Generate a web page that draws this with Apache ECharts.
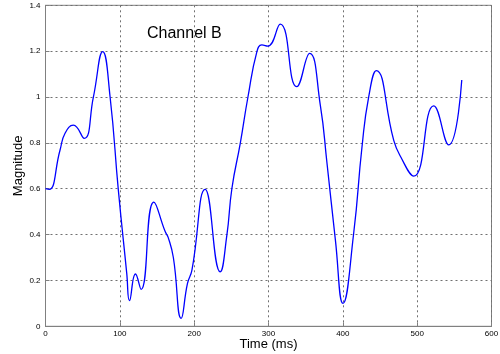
<!DOCTYPE html>
<html>
<head>
<meta charset="utf-8">
<script src="https://cdn.jsdelivr.net/npm/echarts@6/dist/echarts.min.js"></script>
<style>html,body{margin:0;padding:0;background:#fff;}#c{width:500px;height:354px;}</style>
</head>
<body>
<div id="c"></div>
<script>
var times = [0,5,19.5,26.3,37.5,52,64.4,77,86.9,98,109.3,113,121,128.6,145.7,161,165,172,182.5,191,197,214.8,235,244,250.8,262,272.3,284.4,291,299,315.8,338,355.3,369.7,378.7,390,400.2,414.6,425.8,434.8,445,468.4,476.5,495.4,522.3,542.5,560];
var magnitude = [0.60,0.597,0.768,0.842,0.877,0.82,1.0,1.198,1.0,0.594,0.231,0.112,0.228,0.161,0.542,0.413,0.388,0.30,0.035,0.187,0.245,0.597,0.238,0.398,0.602,0.798,0.999,1.198,1.227,1.222,1.318,1.045,1.19,0.965,0.711,0.376,0.10,0.406,0.783,1.001,1.115,0.812,0.747,0.655,0.961,0.791,1.074];
var xTicks = [0,100,200,300,400,500,600];
var yTicks = [0,0.2,0.4,0.6,0.8,1,1.2,1.4];
var titleText = 'Channel B';
var xName = 'Time (ms)';
var yName = 'Magnitude';

var pts = times.map(function(t,i){return [t, magnitude[i]];});
var font = 'Arial, "Liberation Sans", sans-serif';
var chart = echarts.init(document.getElementById('c'), null, {renderer:'canvas'});
chart.setOption({
  animation:false,
  backgroundColor:'#fff',
  title:{text:titleText,left:142,top:21,textStyle:{fontFamily:font,fontSize:16,fontWeight:'normal',color:'#000'}},
  grid:{left:45.5,right:8.5,top:5.3,bottom:27.7,containLabel:false,outerBoundsMode:'none',show:true,borderColor:'#808080',borderWidth:1,backgroundColor:'transparent'},
  xAxis:{type:'value',min:xTicks[0],max:xTicks[xTicks.length-1],interval:100,
    name:xName,nameLocation:'middle',nameGap:12,nameMoveOverlap:false,nameTextStyle:{fontFamily:font,fontSize:13,color:'#000',verticalAlign:'top'},
    axisLine:{show:true,lineStyle:{color:'#808080'}},
    axisTick:{show:true,inside:true,length:4,lineStyle:{color:'#808080'}},
    axisLabel:{fontFamily:font,fontSize:8,color:'#000',margin:3},
    splitLine:{show:true,lineStyle:{color:'#707070',type:[2,3],width:1}}},
  yAxis:{type:'value',min:yTicks[0],max:yTicks[yTicks.length-1],interval:0.2,
    name:yName,nameLocation:'middle',nameGap:21,nameMoveOverlap:false,nameTextStyle:{fontFamily:font,fontSize:13,color:'#000'},
    axisLine:{show:true,lineStyle:{color:'#808080'}},
    axisTick:{show:true,inside:true,length:4,lineStyle:{color:'#808080'}},
    axisLabel:{fontFamily:font,fontSize:8,color:'#000',margin:5,formatter:function(v){return String(Math.round(v*10)/10);}},
    splitLine:{show:true,lineStyle:{color:'#707070',type:[2,3],width:1}}},
  series:[{type:'line',data:pts,smooth:0.5,showSymbol:false,lineStyle:{color:'#0000ff',width:1.3}}]
});
</script>
</body>
</html>
